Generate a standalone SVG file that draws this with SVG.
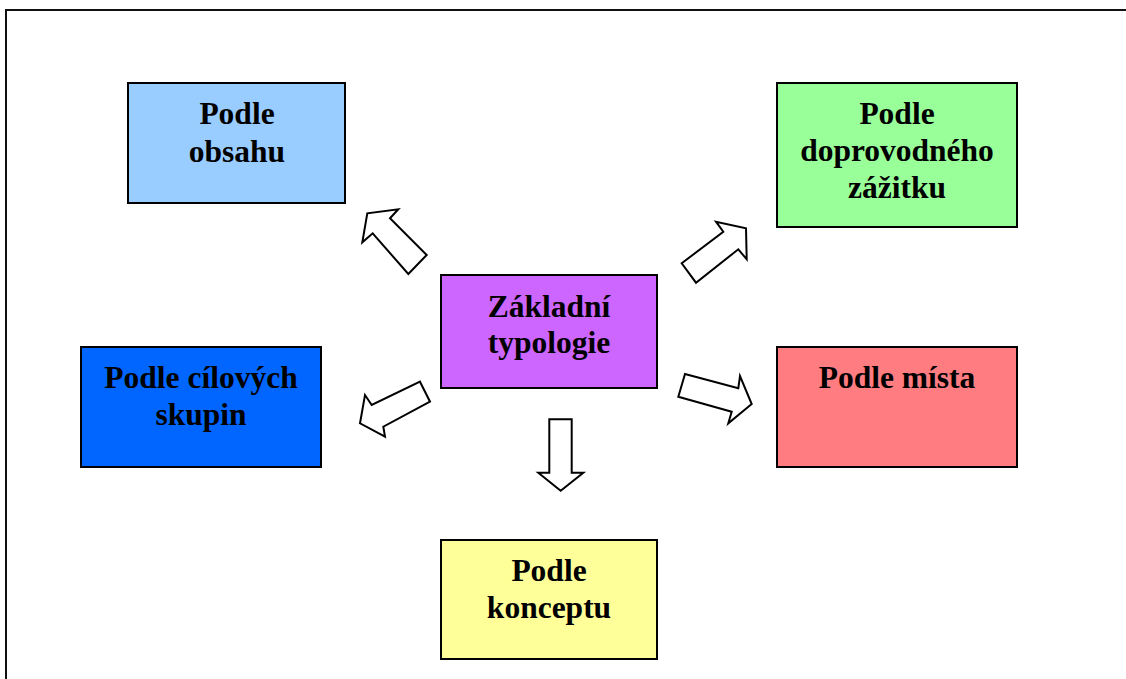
<svg xmlns="http://www.w3.org/2000/svg" width="1126" height="679" viewBox="0 0 1126 679">
<style>
.box{stroke:#000;stroke-width:2}
.t{font-family:"Liberation Serif","Times New Roman",serif;font-weight:bold;font-size:31.5px;fill:#000;text-anchor:middle}
.arr{fill:#fff;stroke:#000;stroke-width:2;stroke-linejoin:miter}
</style>
<rect x="0" y="0" width="1126" height="679" fill="#fff"/>
<rect x="6" y="10" width="1200" height="800" fill="none" stroke="#111" stroke-width="2"/>
<g id="obsahu">
<rect class="box" x="128" y="83" width="217" height="120" fill="#99CCFF"/>
<text class="t" x="237" y="124">Podle</text>
<text class="t" x="237" y="162">obsahu</text>
</g>
<g id="zazitku">
<rect class="box" x="777" y="83" width="240" height="144" fill="#99FF99"/>
<text class="t" x="897" y="124">Podle</text>
<text class="t" x="897" y="161">doprovodného</text>
<text class="t" x="897" y="198">zážitku</text>
</g>
<g id="zakladni">
<rect class="box" x="441" y="275" width="216" height="113" fill="#CC66FF"/>
<text class="t" x="549" y="317">Základní</text>
<text class="t" x="549" y="353">typologie</text>
</g>
<g id="cilovych">
<rect class="box" x="81" y="347" width="240" height="120" fill="#0066FF"/>
<text class="t" x="201" y="388">Podle cílových</text>
<text class="t" x="201" y="425">skupin</text>
</g>
<g id="mista">
<rect class="box" x="777" y="347" width="240" height="120" fill="#FF7C80"/>
<text class="t" x="897" y="388">Podle místa</text>
</g>
<g id="konceptu">
<rect class="box" x="441" y="540" width="216" height="119" fill="#FFFF99"/>
<text class="t" x="549" y="581">Podle</text>
<text class="t" x="549" y="618">konceptu</text>
</g>
<g id="connectors">
<polygon class="arr" points="408.3,274 426.7,255 390,218.3 398.3,209.3 367.3,213.3 362.3,242.3 372.7,233.3"/>
<polygon class="arr" points="681.7,263.3 723.3,231.7 716,221.7 746,228.3 746.7,259.3 738.3,249.3 696,282.7"/>
<polygon class="arr" points="420,381.7 430,401.7 383.3,426.7 385,436.7 360,423.3 365,395 371.7,405"/>
<polygon class="arr" points="685,374 738.3,388.3 740,376 751.7,404 728.3,423.3 731.7,411.7 678.3,396.7"/>
<polygon class="arr" points="549.3,419.3 571.7,419.3 571.7,472.7 583.3,472.7 560.7,490.7 538.3,472.7 549.3,472.7"/>
</g>
</svg>
